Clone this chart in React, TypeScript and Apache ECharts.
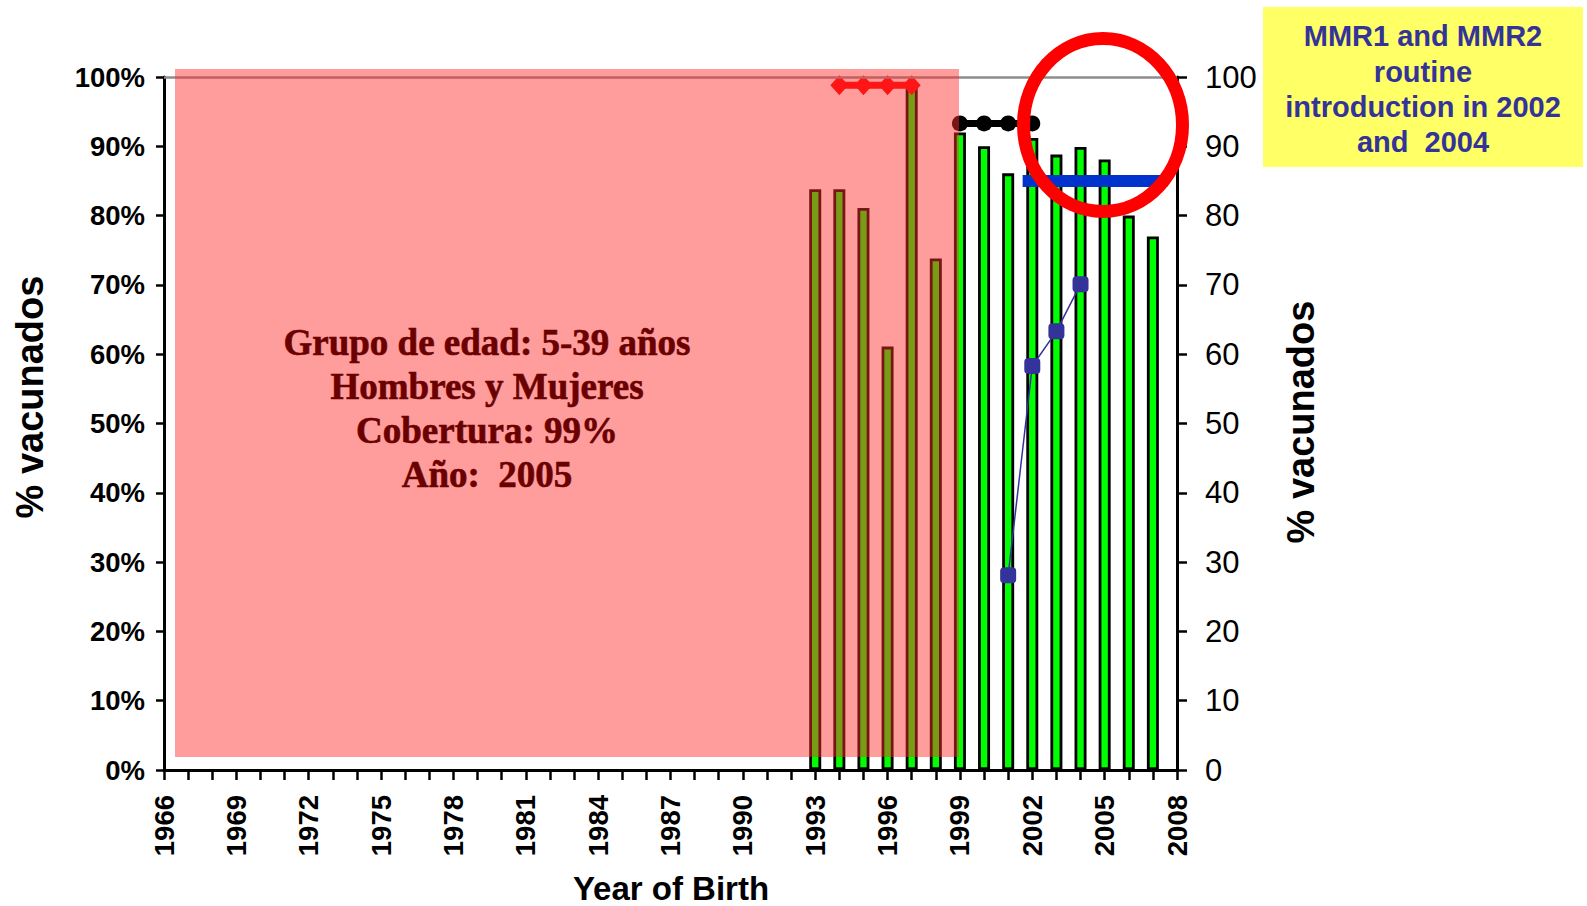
import React, { useEffect, useRef } from "react";
import * as echarts from "echarts";

// ---- data ----
const barYears = [1993, 1994, 1995, 1996, 1997, 1998, 1999, 2000, 2001, 2002, 2003, 2004, 2005, 2006, 2007];
const coverage = [83.8, 83.8, 81.1, 61.1, 98.6, 73.8, 92.0, 90.0, 86.1, 91.2, 88.8, 89.9, 88.1, 80.0, 77.0];

const campaignAYears = [1994, 1995, 1996, 1997];
const campaignAValues = [98.8, 98.8, 98.8, 98.8];

const campaignBYears = [1999, 2000, 2001, 2002];
const campaignBValues = [93.3, 93.3, 93.3, 93.3];

const mmr2Years = [2001, 2002, 2003, 2004];
const mmr2Values = [28.1, 58.3, 63.3, 70.1];

const targetYears = [2001.6, 2007.6];
const targetValues = [85, 85];

const xMin = 1966;
const xMax = 2008;
const yTicksMax = 100;

const overlayLines = ["Grupo de edad: 5-39 años", "Hombres y Mujeres", "Cobertura: 99%", "Año:  2005"];
const boxLines = ["MMR1 and MMR2", "routine", "introduction in 2002", "and  2004"];

const pair = (xs: number[], ys: number[]) => xs.map((x, i) => [x, ys[i]]);

const SANS = "'Liberation Sans', Arial, Helvetica, sans-serif";
const SERIF = "'Liberation Serif', 'Times New Roman', serif";

export default function App() {
  const ref = useRef<HTMLDivElement>(null);

  useEffect(() => {
    const chart = echarts.init(ref.current!, undefined, { renderer: "svg" });

    const overlayY = [342.5, 386.8, 430.8, 474.8];
    const boxY = [36, 71.7, 106.7, 141.7];

    chart.setOption({
      animation: false,
      backgroundColor: "#ffffff",
      grid: { left: 164, right: 410, top: 77, bottom: 136, containLabel: false },
      xAxis: {
        type: "value",
        min: xMin,
        max: xMax,
        interval: 1,
        splitLine: { show: false },
        axisLine: { show: true, onZero: false, lineStyle: { color: "#000", width: 3 } },
        axisTick: { show: true, length: 10, lineStyle: { color: "#000", width: 2.5 } },
        axisLabel: {
          rotate: 90,
          margin: 25,
          fontFamily: SANS,
          fontWeight: "bold",
          fontSize: 27.5,
          color: "#000",
          showMinLabel: true,
          showMaxLabel: true,
          formatter: (v: number) => ((v - xMin) % 3 === 0 ? String(v) : ""),
        },
      },
      yAxis: [
        {
          type: "value",
          min: 0,
          max: yTicksMax,
          interval: 10,
          position: "left",
          splitLine: { show: false },
          axisLine: { show: true, lineStyle: { color: "#000", width: 3 } },
          axisTick: { show: true, length: 8, lineStyle: { color: "#000", width: 2.5 } },
          axisLabel: {
            margin: 19,
            fontFamily: SANS,
            fontWeight: "bold",
            fontSize: 27.5,
            color: "#000",
            formatter: "{value}%",
          },
        },
        {
          type: "value",
          min: 0,
          max: yTicksMax,
          interval: 10,
          position: "right",
          splitLine: { show: false },
          axisLine: { show: true, lineStyle: { color: "#000", width: 3 } },
          axisTick: { show: true, length: 10, lineStyle: { color: "#000", width: 2.5 } },
          axisLabel: {
            margin: 28,
            fontFamily: SANS,
            fontSize: 31,
            color: "#000",
          },
        },
      ],
      series: [
        {
          type: "bar",
          yAxisIndex: 0,
          data: pair(barYears, coverage),
          barWidth: 12,
          itemStyle: { color: "#00ff00", borderColor: "#000", borderWidth: 2.8 },
          markLine: {
            silent: true,
            symbol: "none",
            label: { show: false },
            lineStyle: { color: "#8c8c8c", width: 2.5, type: "solid" },
            data: [{ yAxis: 100 }],
          },
          z: 2,
        },
        {
          type: "line",
          yAxisIndex: 1,
          data: pair(campaignAYears, campaignAValues),
          symbol: "diamond",
          symbolSize: [18, 20],
          lineStyle: { color: "#ff0000", width: 7 },
          itemStyle: { color: "#ff0000" },
          z: 4,
        },
        {
          type: "line",
          yAxisIndex: 1,
          data: pair(campaignBYears, campaignBValues),
          symbol: "circle",
          symbolSize: 16,
          lineStyle: { color: "#000", width: 7 },
          itemStyle: { color: "#000" },
          z: 4,
        },
        {
          type: "line",
          yAxisIndex: 1,
          data: pair(mmr2Years, mmr2Values),
          symbol: "roundRect",
          symbolSize: 16,
          lineStyle: { color: "#333399", width: 1.5 },
          itemStyle: { color: "#333399" },
          z: 4,
        },
        {
          type: "line",
          yAxisIndex: 1,
          data: pair(targetYears, targetValues),
          symbol: "none",
          lineStyle: { color: "#0033cc", width: 12, cap: "butt" },
          z: 5,
        },
      ],
      graphic: [
        {
          type: "rect",
          z: 50,
          silent: true,
          shape: { x: 175, y: 69, width: 784, height: 688 },
          style: { fill: "rgba(255, 45, 45, 0.47)" },
        },
        ...overlayLines.map((t, i) => ({
          type: "text",
          z: 60,
          silent: true,
          x: 487,
          y: overlayY[i],
          style: {
            text: t,
            fill: "#6a0000",
            font: `bold 37px ${SERIF}`,
            align: "center",
            verticalAlign: "middle",
            stroke: "#6a0000",
            lineWidth: 0.6,
          },
        })),
        {
          type: "ellipse",
          z: 70,
          silent: true,
          shape: { cx: 1103, cy: 125, rx: 79.5, ry: 86.5 },
          style: { fill: "none", stroke: "#ff0000", lineWidth: 13 },
        },
        {
          type: "rect",
          z: 70,
          silent: true,
          shape: { x: 1263, y: 7, width: 320, height: 160 },
          style: { fill: "#ffff66" },
        },
        ...boxLines.map((t, i) => ({
          type: "text",
          z: 71,
          silent: true,
          x: 1423,
          y: boxY[i],
          style: {
            text: t,
            fill: "#333399",
            font: `bold 29px ${SANS}`,
            align: "center",
            verticalAlign: "middle",
          },
        })),
        {
          type: "text",
          z: 71,
          silent: true,
          x: 30,
          y: 397,
          rotation: Math.PI / 2,
          style: {
            text: "% vacunados",
            fill: "#000",
            font: `bold 38px ${SANS}`,
            align: "center",
            verticalAlign: "middle",
          },
        },
        {
          type: "text",
          z: 71,
          silent: true,
          x: 1301,
          y: 422,
          rotation: Math.PI / 2,
          style: {
            text: "% vacunados",
            fill: "#000",
            font: `bold 38px ${SANS}`,
            align: "center",
            verticalAlign: "middle",
          },
        },
        {
          type: "text",
          z: 71,
          silent: true,
          x: 671,
          y: 888.5,
          style: {
            text: "Year of Birth",
            fill: "#000",
            font: `bold 33px ${SANS}`,
            align: "center",
            verticalAlign: "middle",
          },
        },
      ],
    });

    return () => {
      chart.dispose();
    };
  }, []);

  return (
    <div
      ref={ref}
      style={{ position: "fixed", left: 0, top: 0, width: 1587, height: 906, background: "#fff" }}
    />
  );
}
